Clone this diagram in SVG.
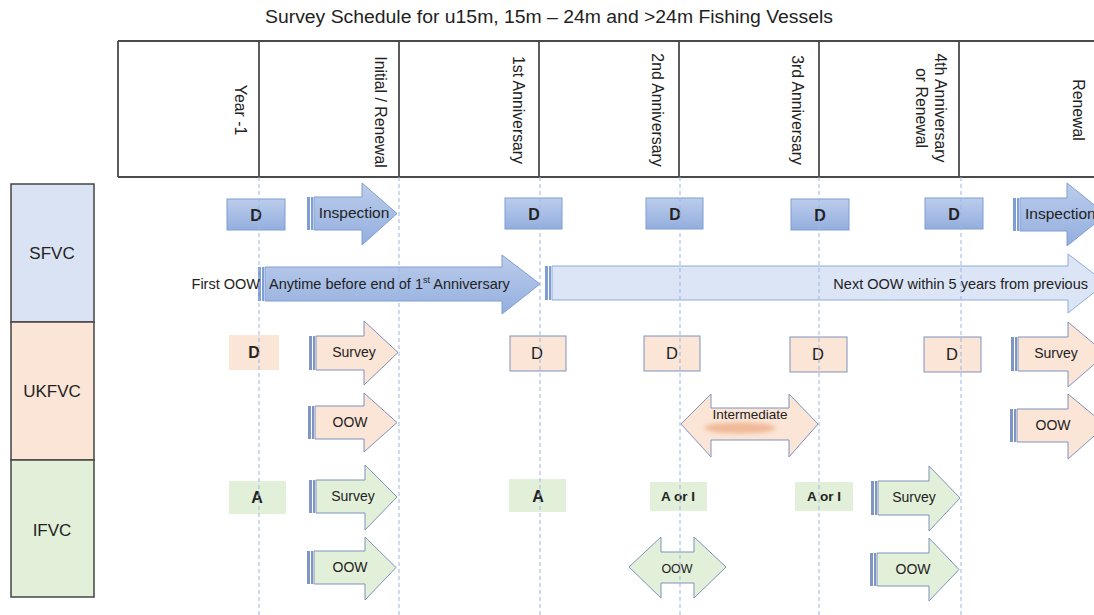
<svg xmlns="http://www.w3.org/2000/svg" width="1094" height="615" viewBox="0 0 1094 615">
<defs>
<linearGradient id="gBlue" x1="0" y1="0" x2="0" y2="1">
<stop offset="0" stop-color="#bccdec"/><stop offset="1" stop-color="#93aede"/>
</linearGradient>
<filter id="blur" x="-20%" y="-100%" width="140%" height="300%"><feGaussianBlur stdDeviation="2"/></filter>
<style>
.t{font-family:"Liberation Sans",Arial,sans-serif;fill:#222}
.hdr{font-size:15.8px;text-anchor:middle}
.lbl{font-size:14px;text-anchor:middle}
.bd{font-weight:bold;text-anchor:middle}
.tbl{stroke:#4a4a4a;stroke-width:1.8;fill:none}
.grid{stroke:#9db5e3;stroke-width:1;stroke-dasharray:4 3;fill:none}
.blue{fill:url(#gBlue);stroke:#7f9ed3;stroke-width:1}
.lblue{fill:#dce5f5;stroke:#8eaadb;stroke-width:1}
.peach{fill:#fbe5d6;stroke:#7f92bd;stroke-width:1}
.green{fill:#e2f0d9;stroke:#7f92bd;stroke-width:1}
.stripe{fill:#7f96c4}
.stripeB{fill:#7f9ed3}
</style>
</defs>
<rect width="1094" height="615" fill="#fff"/>
<text class="t" x="549" y="23" font-size="17.5" text-anchor="middle" textLength="568" lengthAdjust="spacingAndGlyphs">Survey Schedule for u15m, 15m – 24m and &gt;24m Fishing Vessels</text>

<g id="header">
<path class="tbl" d="M118 41H1094M118 177H1094M118 41V177M259 41V177M399 41V177M539 41V177M679 41V177M819 41V177M959 41V177"/>
<text class="t hdr" transform="translate(235,110) rotate(90)">Year -1</text>
<text class="t hdr" transform="translate(375,112) rotate(90)">Initial / Renewal</text>
<text class="t hdr" transform="translate(513,110) rotate(90)">1st Anniversary</text>
<text class="t hdr" transform="translate(652,110) rotate(90)">2nd Anniversary</text>
<text class="t hdr" transform="translate(792,110) rotate(90)">3rd Anniversary</text>
<text class="t hdr" transform="translate(935,108) rotate(90)">4th Anniversary</text>
<text class="t hdr" transform="translate(916,108) rotate(90)">or Renewal</text>
<text class="t hdr" transform="translate(1073,110) rotate(90)">Renewal</text>
</g>

<g id="row-labels">
<g id="sfvc"><rect x="11" y="184" width="83" height="138" fill="#dae3f3" stroke="#444" stroke-width="1.5"/><text class="t" x="52" y="259" font-size="17" text-anchor="middle">SFVC</text></g>
<g id="ukfvc"><rect x="11" y="322" width="83" height="138" fill="#fbe5d6" stroke="#444" stroke-width="1.5"/><text class="t" x="52" y="397" font-size="17" text-anchor="middle">UKFVC</text></g>
<g id="ifvc"><rect x="11" y="460" width="83" height="137" fill="#e2f0d9" stroke="#444" stroke-width="1.5"/><text class="t" x="52" y="536" font-size="17" text-anchor="middle">IFVC</text></g>
</g>

<!-- SFVC row -->
<g id="sfvc-d1"><rect class="blue" x="227" y="199" width="58" height="31"/><text class="t bd" x="256" y="221" font-size="16">D</text></g>
<g id="sfvc-inspection1">
<rect class="stripeB" x="307" y="197" width="3" height="33"/><rect class="stripeB" x="311" y="197" width="2" height="33"/>
<path class="blue" d="M314 197H362V183L397 213.5L362 245V230H314Z"/>
<text class="t" x="354" y="218" font-size="15.5" text-anchor="middle">Inspection</text></g>
<g id="sfvc-d2"><rect class="blue" x="505" y="198" width="57" height="31"/><text class="t bd" x="534" y="220" font-size="16">D</text></g>
<g id="sfvc-d3"><rect class="blue" x="646" y="198" width="57" height="31"/><text class="t bd" x="675" y="220" font-size="16">D</text></g>
<g id="sfvc-d4"><rect class="blue" x="791" y="199" width="58" height="31"/><text class="t bd" x="820" y="221" font-size="16">D</text></g>
<g id="sfvc-d5"><rect class="blue" x="925" y="198" width="58" height="31"/><text class="t bd" x="954" y="220" font-size="16">D</text></g>
<g id="sfvc-inspection2">
<rect class="stripeB" x="1013" y="198" width="3" height="33"/><rect class="stripeB" x="1017" y="198" width="2" height="33"/>
<path class="blue" d="M1020 198H1067V183L1106 214.5L1067 246V231H1020Z"/>
<text class="t" x="1025" y="219" font-size="15.5">Inspection</text></g>

<g id="sfvc-first-oow">
<rect class="stripeB" x="258" y="267" width="3" height="34"/><rect class="stripeB" x="262" y="267" width="2" height="34"/>
<path class="blue" d="M265 267H502V255L540 284L502 314V301H265Z"/>
<text class="t" x="260" y="289" font-size="14.5" text-anchor="end">First OOW</text>
<text class="t" x="269" y="289" font-size="14.5">Anytime before end of 1<tspan font-size="9" dy="-6">st</tspan><tspan dy="6"> Anniversary</tspan></text></g>
<g id="sfvc-next-oow">
<rect class="stripeB" x="545" y="266" width="3" height="34"/><rect class="stripeB" x="549" y="266" width="2" height="34"/>
<path class="lblue" d="M552 266H1068V254L1106 283L1068 313V300H552Z"/>
<text class="t" x="1088" y="289" font-size="14.5" text-anchor="end">Next OOW within 5 years from previous</text></g>

<!-- UKFVC row -->
<g id="ukfvc-d1"><rect x="229" y="335" width="50" height="35" fill="#fbe5d6"/><text class="t bd" x="254" y="358" font-size="16">D</text></g>
<g id="ukfvc-survey1">
<rect class="stripe" x="309" y="336" width="3" height="34"/><rect class="stripe" x="313" y="336" width="2" height="34"/>
<path class="peach" d="M316 336H364V321L398 352.5L364 385V370H316Z"/>
<text class="t lbl" x="354" y="357">Survey</text></g>
<g id="ukfvc-d2"><rect class="peach" x="510" y="336" width="56" height="35"/><text class="t" x="537" y="359" font-size="16.5" text-anchor="middle">D</text></g>
<g id="ukfvc-d3"><rect class="peach" x="644" y="336" width="56" height="35"/><text class="t" x="672" y="359" font-size="16.5" text-anchor="middle">D</text></g>
<g id="ukfvc-d4"><rect class="peach" x="790" y="337" width="57" height="35"/><text class="t" x="818" y="360" font-size="16.5" text-anchor="middle">D</text></g>
<g id="ukfvc-d5"><rect class="peach" x="924" y="337" width="57" height="35"/><text class="t" x="952" y="360" font-size="16.5" text-anchor="middle">D</text></g>
<g id="ukfvc-survey2">
<rect class="stripe" x="1011" y="337" width="3" height="34"/><rect class="stripe" x="1015" y="337" width="2" height="34"/>
<path class="peach" d="M1018 337H1068V322L1106 354L1068 387V371H1018Z"/>
<text class="t lbl" x="1056" y="358">Survey</text></g>
<g id="ukfvc-oow1">
<rect class="stripe" x="308" y="406" width="3" height="33"/><rect class="stripe" x="312" y="406" width="2" height="33"/>
<path class="peach" d="M315 406H364V393L397 422.5L364 452V439H315Z"/>
<text class="t lbl" x="350" y="427">OOW</text></g>
<g id="ukfvc-intermediate">
<path class="peach" d="M681 424L711 394V408H789V394L818 424L789 457V440H711V457Z"/>
<ellipse cx="740" cy="428" rx="36" ry="5.5" fill="#efb998" filter="url(#blur)"/>
<text class="t" x="750" y="419" font-size="13.5" text-anchor="middle">Intermediate</text></g>
<g id="ukfvc-oow2">
<rect class="stripe" x="1010" y="409" width="3" height="33"/><rect class="stripe" x="1014" y="409" width="2" height="33"/>
<path class="peach" d="M1017 409H1068V394L1106 425.5L1068 459V442H1017Z"/>
<text class="t lbl" x="1053" y="430">OOW</text></g>

<!-- IFVC row -->
<g id="ifvc-a1"><rect x="229" y="481" width="57" height="33" fill="#e2f0d9"/><text class="t bd" x="257" y="503" font-size="16">A</text></g>
<g id="ifvc-survey1">
<rect class="stripe" x="309" y="480" width="3" height="33"/><rect class="stripe" x="313" y="480" width="2" height="33"/>
<path class="green" d="M316 480H365V465L397 497L365 530V513H316Z"/>
<text class="t lbl" x="353" y="501">Survey</text></g>
<g id="ifvc-a2"><rect x="509" y="479" width="57" height="33" fill="#e2f0d9"/><text class="t bd" x="538" y="502" font-size="16">A</text></g>
<g id="ifvc-aori1"><rect x="650" y="482" width="57" height="29" fill="#e2f0d9"/><text class="t bd" x="678" y="501" font-size="13.5">A or I</text></g>
<g id="ifvc-aori2"><rect x="795" y="482" width="58" height="29" fill="#e2f0d9"/><text class="t bd" x="824" y="501" font-size="13.5">A or I</text></g>
<g id="ifvc-survey2">
<rect class="stripe" x="871" y="481" width="3" height="34"/><rect class="stripe" x="875" y="481" width="2" height="34"/>
<path class="green" d="M878 481H929V466L960 498L929 531V515H878Z"/>
<text class="t lbl" x="914" y="502">Survey</text></g>
<g id="ifvc-oow1">
<rect class="stripe" x="307" y="551" width="3" height="33"/><rect class="stripe" x="311" y="551" width="2" height="33"/>
<path class="green" d="M314 551H365V537L396 567.5L365 600V584H314Z"/>
<text class="t lbl" x="350" y="572">OOW</text></g>
<g id="ifvc-oow-double">
<path class="green" d="M629 567L661 537V552H694V537L726 567L694 598V583H661V598Z"/>
<text class="t" x="677" y="573" font-size="12.5" text-anchor="middle">OOW</text></g>
<g id="ifvc-oow2">
<rect class="stripe" x="870" y="553" width="3" height="33"/><rect class="stripe" x="874" y="553" width="2" height="33"/>
<path class="green" d="M877 553H929V538L959 569.5L929 601V586H877Z"/>
<text class="t lbl" x="913" y="574">OOW</text></g>

<g id="connectors">
<path class="grid" d="M259 177V615M399 177V615M540 177V615M680 177V615M819 177V615M961 177V615"/>
</g>
</svg>
